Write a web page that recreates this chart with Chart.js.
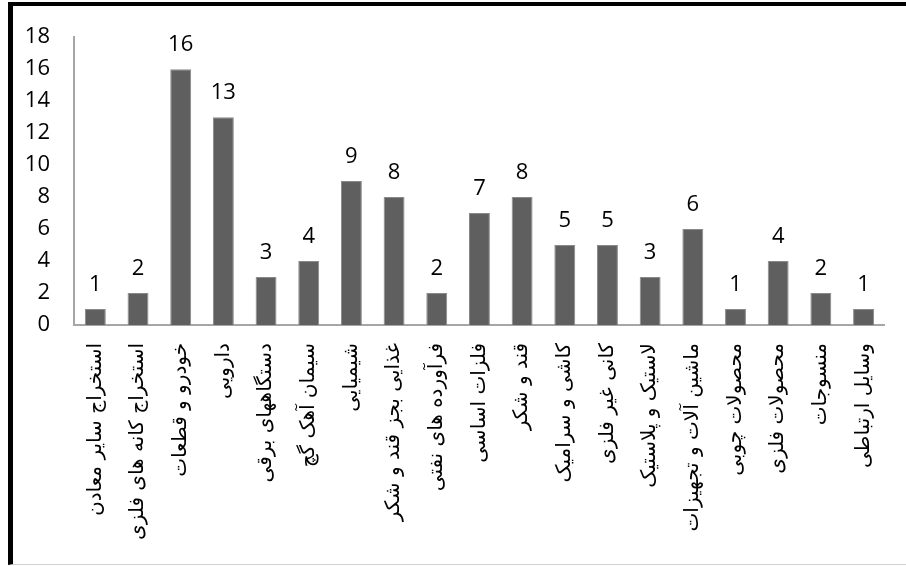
<!DOCTYPE html>
<html>
<head>
<meta charset="utf-8">
<script src="https://cdn.jsdelivr.net/npm/chart.js@4"></script>
<style>
  body { margin: 0; background: #fff; }
  #wrap { position: relative; width: 906px; height: 566px; overflow: hidden; }
  #frame { position: absolute; left: 8px; top: 2px; width: 898px; height: 563px;
           border-left: 5px solid #000; border-top: 4px solid #000; border-bottom: 1px solid #d0d0d0;
           box-sizing: border-box; pointer-events: none; }
  canvas { position: absolute; left: 0; top: 0; }
</style>
</head>
<body>
<div id="wrap">
  <canvas id="barChart" width="906" height="566"></canvas>
  <div id="frame"></div>
</div>
<script>
var categories = [
    'استخراج سایر معادن', 'استخراج کانه های فلزی', 'خودرو و قطعات', 'دارویی',
    'دستگاههای برقی', 'سیمان آهک گچ', 'شیمیایی', 'غذایی بجز قند و شکر',
    'فرآورده های نفتی', 'فلزات اساسی', 'قند و شکر', 'کاشی و سرامیک',
    'کانی غیر فلزی', 'لاستیک و پلاستیک', 'ماشین آلات و تجهیزات', 'محصولات چوبی',
    'محصولات فلزی', 'منسوجات', 'وسایل ارتباطی'
];
var counts = [1, 2, 16, 13, 3, 4, 9, 8, 2, 7, 8, 5, 5, 3, 6, 1, 4, 2, 1];
var yTicks = [0, 2, 4, 6, 8, 10, 12, 14, 16, 18];

// value labels above each bar
var valueLabels = {
    id: 'valueLabels',
    afterDatasetsDraw: function(chart) {
        var ctx = chart.ctx;
        var meta = chart.getDatasetMeta(0);
        ctx.save();
        ctx.font = '22px "Open Sans"';
        ctx.fillStyle = '#000';
        ctx.textAlign = 'center';
        ctx.textBaseline = 'alphabetic';
        meta.data.forEach(function(bar, i) {
            ctx.fillText(String(counts[i]), bar.x, bar.y - 18);
        });
        ctx.restore();
    }
};

window.onload = function() {
    var ctx = document.getElementById('barChart').getContext('2d');
    new Chart(ctx, {
        type: 'bar',
        data: {
            labels: categories,
            datasets: [{
                data: counts,
                backgroundColor: '#5f5f5f',
                borderColor: '#8a8a8a',
                borderWidth: 1,
                barPercentage: 0.49,
                categoryPercentage: 1
            }]
        },
        options: {
            responsive: false,
            animation: false,
            layout: { padding: { top: 33, right: 18, left: 0, bottom: 0 } },
            plugins: {
                legend: { display: false },
                tooltip: { enabled: false }
            },
            scales: {
                x: {
                    grid: { display: false, drawTicks: false },
                    border: { display: true, color: '#a6a6a6', width: 2 },
                    ticks: {
                        autoSkip: false,
                        minRotation: 90,
                        maxRotation: 90,
                        padding: 18,
                        color: '#000',
                        font: { family: 'DejaVu Sans', size: 20 }
                    },
                    afterFit: function(scale) { scale.height = 241; }
                },
                y: {
                    min: 0,
                    max: 18,
                    grid: { display: false, drawTicks: false },
                    border: { display: true, color: '#a6a6a6', width: 2 },
                    afterBuildTicks: function(scale) {
                        scale.ticks = yTicks.map(function(v) { return { value: v }; });
                    },
                    ticks: {
                        padding: 24,
                        color: '#000',
                        font: { family: 'Open Sans', size: 22 }
                    },
                    afterFit: function(scale) { scale.width = 74; }
                }
            }
        },
        plugins: [valueLabels]
    });
};
</script>
</body>
</html>
